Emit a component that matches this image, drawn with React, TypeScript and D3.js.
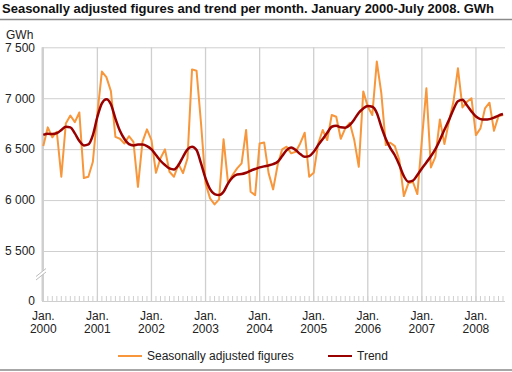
import { useEffect, useRef } from 'react'
import * as d3 from 'd3'

const title = 'Seasonally adjusted figures and trend per month. January 2000-July 2008. GWh'
const unitLabel = 'GWh'
const yearLabels = ['2000', '2001', '2002', '2003', '2004', '2005', '2006', '2007', '2008']
const yTicks = [0, 5500, 6000, 6500, 7000, 7500]
const seriesNames = ['Seasonally adjusted figures', 'Trend']

// monthly values, Jan 2000 - Jul 2008
const seasonal = [
  6530, 6714, 6616, 6671, 6229, 6752, 6830, 6765, 6860, 6216, 6229, 6376,
  6850, 7262, 7207, 7070, 6620, 6602, 6556, 6627, 6572, 6130, 6572, 6694,
  6589, 6268, 6410, 6498, 6278, 6229, 6353, 6265, 6410, 7283, 7270, 6752,
  6164, 6017, 5958, 6007, 6596, 6164, 6246, 6311, 6360, 6688, 6082, 6049,
  6556, 6566, 6262, 6105, 6344, 6498, 6524, 6459, 6475, 6556, 6661, 6229,
  6268, 6556, 6688, 6589, 6835, 6818, 6602, 6704, 6759, 6589, 6327, 7067,
  6916, 6835, 7360, 7050, 6540, 6563, 6530, 6393, 6039, 6164, 6180, 6059,
  6589, 7097, 6321, 6425, 6792, 6550, 6769, 6965, 7294, 6910, 6965, 7000,
  6638, 6704, 6900, 6956, 6680, 6824, 6835,
]
const trend = [
  6640, 6650, 6648, 6657, 6688, 6720, 6714, 6655, 6580, 6537, 6547, 6638,
  6818, 6949, 6989, 6940, 6800, 6680, 6600, 6550, 6537, 6545, 6545, 6530,
  6498, 6442, 6386, 6344, 6311, 6301, 6344, 6425, 6498, 6524, 6491, 6360,
  6213, 6108, 6059, 6049, 6082, 6164, 6223, 6252, 6255, 6268, 6288, 6305,
  6321, 6331, 6340, 6353, 6376, 6432, 6491, 6517, 6491, 6452, 6425, 6432,
  6474, 6540, 6600, 6661, 6720, 6730, 6714, 6710, 6737, 6792, 6858, 6900,
  6923, 6916, 6855, 6720, 6600, 6510, 6440, 6344, 6235, 6180, 6190, 6246,
  6311, 6370, 6430, 6500, 6590, 6690, 6785, 6890, 6970, 6985, 6930, 6870,
  6820, 6795, 6790, 6795, 6810, 6830, 6845,
]

const font = '"Liberation Sans", Arial, sans-serif'
const orange = '#f7963a'
const darkRed = '#990000'
const gridColor = '#cfcfcf'

function drawChart(el: SVGSVGElement) {
  const svg = d3.select(el)
  svg.selectAll('*').remove()

  const x = d3.scaleLinear().domain([0, seasonal.length - 1]).range([43.3, 503])
  const y = d3.scaleLinear().domain([0, 5500, 7500]).range([301, 251, 47.3])
  const fmt = d3.formatLocale({ decimal: ',', thousands: ' ', grouping: [3], currency: ['', ''] }).format(',')

  // title + rules
  svg.append('text').attr('x', 2).attr('y', 13)
    .attr('font-family', font).attr('font-size', 13).attr('font-weight', 'bold')
    .attr('fill', '#111').text(title)
  svg.append('line').attr('x1', 0).attr('x2', 512).attr('y1', 19.5).attr('y2', 19.5)
    .attr('stroke', '#8a8a8a').attr('stroke-width', 1.5)
  svg.append('line').attr('x1', 0).attr('x2', 512).attr('y1', 370).attr('y2', 370)
    .attr('stroke', '#8a8a8a').attr('stroke-width', 1.5)

  svg.append('text').attr('x', 6).attr('y', 39)
    .attr('font-family', font).attr('font-size', 12).attr('fill', '#222').text(unitLabel)

  // horizontal grid
  const yAxis = d3.axisLeft(y).tickValues(yTicks).tickFormat(d => fmt(d as number))
    .tickSize(-463).tickPadding(7)
  const gy = svg.append('g').attr('transform', 'translate(42,0)').call(yAxis)
  gy.select('.domain').remove()
  gy.selectAll('.tick line').attr('stroke', gridColor)
  gy.selectAll('.tick text').attr('font-family', font).attr('font-size', 12).attr('fill', '#222')

  // year grid lines + labels
  const yearIdx = yearLabels.map((_, i) => i * 12)
  svg.append('g').selectAll('line').data(yearIdx).join('line')
    .attr('x1', d => x(d)).attr('x2', d => x(d)).attr('y1', y(7500)).attr('y2', y(0))
    .attr('stroke', gridColor).attr('stroke-width', 1.3)
  const lab = svg.append('g').selectAll('text').data(yearLabels).join('text')
    .attr('font-family', font).attr('font-size', 12).attr('fill', '#222')
    .attr('text-anchor', 'middle')
  lab.append('tspan').attr('x', (_, i) => x(i * 12)).attr('y', 320).text('Jan.')
  lab.append('tspan').attr('x', (_, i) => x(i * 12)).attr('y', 333).text(d => d)

  // monthly ticks
  svg.append('g').selectAll('line').data(d3.range(seasonal.length)).join('line')
    .attr('x1', d => x(d)).attr('x2', d => x(d)).attr('y1', y(0) - 5).attr('y2', y(0))
    .attr('stroke', gridColor)

  // vertical axis with break
  svg.append('line').attr('x1', 42.5).attr('x2', 42.5).attr('y1', y(7500)).attr('y2', y(0))
    .attr('stroke', gridColor).attr('stroke-width', 2)
  svg.append('polygon').attr('points', '36,276 46,268 46,272 36,280').attr('fill', '#fff')
  svg.append('line').attr('x1', 36).attr('y1', 276.5).attr('x2', 46).attr('y2', 268.5)
    .attr('stroke', '#bdbdbd')
  svg.append('line').attr('x1', 36).attr('y1', 280).attr('x2', 46).attr('y2', 272)
    .attr('stroke', '#bdbdbd')

  // series
  const lineS = d3.line<number>().x((_, i) => x(i)).y(d => y(d))
  const lineT = d3.line<number>().x((_, i) => x(i)).y(d => y(d)).curve(d3.curveMonotoneX)
  svg.append('path').attr('d', lineS(seasonal)).attr('fill', 'none')
    .attr('stroke', orange).attr('stroke-width', 2).attr('stroke-linejoin', 'round')
  svg.append('path').attr('d', lineT(trend)).attr('fill', 'none')
    .attr('stroke', darkRed).attr('stroke-width', 2.5)

  // legend
  const legX = [118, 328]
  const legC = [orange, darkRed]
  const leg = svg.append('g').selectAll('g').data(seriesNames).join('g')
  leg.append('line').attr('x1', (_, i) => legX[i]).attr('x2', (_, i) => legX[i] + 24)
    .attr('y1', 356).attr('y2', 356).attr('stroke', (_, i) => legC[i]).attr('stroke-width', 2)
  leg.append('text').attr('x', (_, i) => legX[i] + 29).attr('y', 360)
    .attr('font-family', font).attr('font-size', 12).attr('fill', '#222').text(d => d)
}

export default function App() {
  const ref = useRef<SVGSVGElement>(null)
  useEffect(() => {
    if (ref.current) drawChart(ref.current)
  }, [])
  return (
    <svg ref={ref} width={512} height={372}
      style={{ position: 'absolute', left: 0, top: 0, background: '#fff' }} />
  )
}
